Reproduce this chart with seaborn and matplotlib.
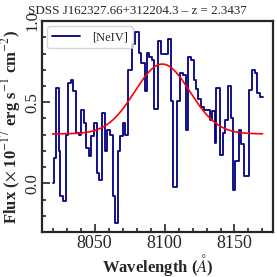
import numpy as np
import pandas as pd
import matplotlib
matplotlib.use("Agg")
import matplotlib.pyplot as plt
import seaborn as sns
from matplotlib.ticker import MultipleLocator

# ---- data ----
title = "SDSS J162327.66+312204.3 – z = 2.3437"
line_label = "[NeIV]"

wave_edges = [8020.0, 8021.1, 8022.3, 8024.3, 8025.4, 8027.3, 8029.4, 8031.1, 8033.0,
              8034.6, 8036.5, 8038.7, 8040.6, 8042.4, 8043.6, 8045.7, 8047.7, 8049.3,
              8051.4, 8053.1, 8055.5, 8057.8, 8059.2, 8061.3, 8063.3, 8064.9, 8066.8,
              8068.4, 8070.4, 8072.0, 8073.9, 8077.0, 8079.1, 8081.4, 8083.3, 8085.7,
              8087.4, 8089.0, 8090.8, 8092.8, 8095.2, 8097.5, 8099.9, 8102.7, 8104.6,
              8106.2, 8108.7, 8111.0, 8113.3, 8115.0, 8116.9, 8118.8, 8121.1, 8122.8,
              8124.0, 8125.9, 8128.2, 8130.6, 8132.3, 8133.9, 8135.8, 8137.0, 8139.9,
              8141.7, 8143.4, 8145.2, 8147.2, 8148.8, 8150.7, 8153.5, 8154.8, 8156.6,
              8160.6, 8162.3, 8164.7, 8166.1, 8168.4]
wave_end = 8170.1
flux = [0.00, 0.157, 0.59, 0.198, -0.08, -0.11, 0.30, 0.62, 0.635,
        0.57, 0.31, 0.30, 0.455, 0.37, 0.22, 0.17, 0.29, 0.37,
        0.064, 0.023, 0.435, 0.198, 0.33, 0.30, -0.08, -0.245, 0.198,
        0.29, 0.37, 0.30, 0.70, 0.86, 0.935, 0.805, 0.743, 0.568,
        0.805, 0.78, 0.76, 0.46, 0.877, 0.80, 0.80, 0.887, 0.506,
        -0.02, 0.506, 0.68, 0.67, 0.33, 0.78, 0.76, 0.64, 0.58,
        0.517, 0.47, 0.455, 0.45, 0.393, 0.444, 0.25, 0.59, 0.177,
        0.31, 0.393, 0.60, 0.40, -0.04, 0.136, 0.33, 0.24, 0.043,
        0.578, 0.70, 0.68, 0.558, 0.533]

# Gaussian fit parameters
fit_continuum = 0.305
fit_amplitude = 0.43
fit_center = 8098.4
fit_sigma = 19.7

# ---- plotting ----
sns.set_style("ticks")
plt.rcParams['font.family'] = ['Liberation Serif', 'DejaVu Serif']
plt.rcParams['mathtext.fontset'] = 'stix'

fig = plt.figure(figsize=(2.77, 2.77), dpi=100)
ax = fig.add_axes([0.152, 0.162, 0.834, 0.762])

spec = pd.DataFrame({"wave": wave_edges + [wave_end],
                     "flux": flux + [flux[-1]]})
sns.lineplot(data=spec, x="wave", y="flux", ax=ax, color="#000080",
             drawstyle="steps-post", lw=1.3, label=line_label, estimator=None)

fit_wave = np.linspace(wave_edges[0], wave_end, 400)
fit_flux = fit_continuum + fit_amplitude * np.exp(-0.5 * ((fit_wave - fit_center) / fit_sigma) ** 2)
sns.lineplot(x=fit_wave, y=fit_flux, ax=ax, color="red", lw=1.2, estimator=None)

ax.set_ylim(-0.3, 1.0)
ax.xaxis.set_major_locator(MultipleLocator(50))
ax.xaxis.set_minor_locator(MultipleLocator(10))
ax.yaxis.set_major_locator(MultipleLocator(0.5))
ax.yaxis.set_minor_locator(MultipleLocator(0.1))
ax.tick_params(which="both", direction="in", top=False, right=False, width=1.2)
ax.tick_params(which="major", length=6, labelsize=13)
ax.tick_params(which="minor", length=3)
ax.tick_params(axis="x", pad=2)
ax.tick_params(axis="y", pad=1, labelsize=12)
for lab in ax.get_yticklabels():
    lab.set_rotation(90)
    lab.set_va("center")
for s in ax.spines.values():
    s.set_linewidth(1.6)
    s.set_visible(True)

ax.set_xlabel(r"Wavelength ($\AA$)", fontsize=12, fontweight="bold", labelpad=0)
ax.set_ylabel(r"Flux ($\times$ 10$^{-17}$ erg s$^{-1}$ cm$^{-2}$)", fontsize=12,
              fontweight="bold", labelpad=1)
fig.suptitle(title, fontsize=9.4, x=0.495, y=0.982, va="top")
ax.legend(loc="upper left", fontsize=9, handlelength=2.2, borderpad=0.4,
          handletextpad=1.0, borderaxespad=0.4)

fig.savefig("out.png", dpi=100)
